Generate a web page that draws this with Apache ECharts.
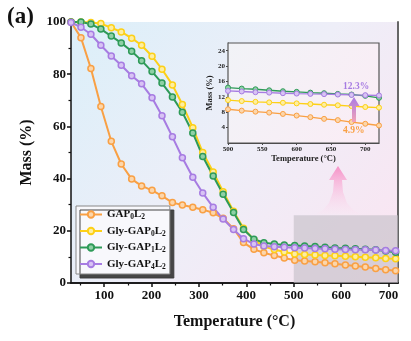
<!DOCTYPE html>
<html><head><meta charset="utf-8">
<script src="https://cdn.jsdelivr.net/npm/echarts@6/dist/echarts.min.js"></script>
<style>html,body{margin:0;padding:0;background:#fff}#c{width:411px;height:341px}</style>
</head><body><div id="c"></div>
<script>
// ---- data ----
const temps = [30, 51, 72, 93, 115, 136, 158, 179, 201, 222, 244, 265, 287, 308, 330, 351, 373, 394, 416, 437, 459, 480, 502, 523, 545, 566, 587, 609, 630, 651, 673, 694, 715];
const gap0 = [100, 94, 82.2, 67.6, 54.3, 45.6, 39.8, 37.2, 35.5, 33.4, 30.8, 29.9, 29, 28.1, 26.9, 24.8, 20.8, 15.5, 12.9, 11.6, 10.5, 9.6, 8.75, 8.4, 8.1, 7.8, 7.4, 6.9, 6.5, 6.1, 5.6, 5.1, 4.7];
const glyGap0 = [100, 100, 99.8, 99.4, 97.8, 96.2, 93.8, 91.1, 86.9, 81.9, 75.9, 68.4, 59.5, 50, 42.5, 35, 27.5, 21, 16.5, 14, 12.8, 11.9, 11.15, 10.9, 10.7, 10.5, 10.4, 10.25, 10.1, 9.9, 9.7, 9.4, 9.25];
const glyGap1 = [100, 100, 99.2, 97.3, 94.6, 92, 88.8, 85.2, 81, 76.6, 71.3, 65.4, 57.5, 48.5, 41, 34, 27, 20.5, 16.8, 15.4, 14.9, 14.6, 14.4, 14.15, 13.95, 13.7, 13.45, 13.3, 13.1, 12.95, 12.75, 12.3, 11.8];
const glyGap4 = [99.8, 98, 95.3, 91.1, 87, 83.4, 79.4, 76.3, 71, 64.1, 56, 48, 40.5, 34.5, 29, 24.5, 20.5, 17, 14.9, 14.2, 13.9, 13.7, 13.5, 13.4, 13.2, 13.1, 12.95, 12.85, 12.75, 12.7, 12.6, 12.45, 12.35];

const insetTemps = [500, 520, 540, 560, 580, 600, 620, 640, 660, 680, 700, 720];
const inGap0 = [8.77, 8.41, 8.15, 7.9, 7.56, 7.13, 6.72, 6.28, 5.95, 5.44, 5.0, 4.56];
const inGlyGap0 = [11.15, 10.9, 10.7, 10.56, 10.46, 10.3, 10.13, 9.95, 9.8, 9.6, 9.36, 9.2];
const inGlyGap1 = [14.4, 14.15, 13.97, 13.7, 13.46, 13.3, 13.1, 12.95, 12.77, 12.6, 12.26, 11.74];
const inGlyGap4 = [13.54, 13.4, 13.2, 13.1, 12.95, 12.85, 12.77, 12.7, 12.6, 12.5, 12.44, 12.36];

const names = ['GAP0L2', 'Gly-GAP0L2', 'Gly-GAP1L2', 'Gly-GAP4L2'];
const mainX = [100, 200, 300, 400, 500, 600, 700];
const mainXMinor = [50, 150, 250, 350, 450, 550, 650];
const insetX = [500, 550, 600, 650, 700];
const insetY = [4, 8, 12, 16, 20, 24];
const highlight = ['12.3%', '4.9%'];

// ---- style ----
const colors = ['#f9a044', '#fdd017', '#2e9a58', '#a77ce2'];
const fills = ['#fcd6ab', '#feeea0', '#8fd0a6', '#d8c3f4'];
const FONT = '"Liberation Serif","Times New Roman",serif';

const mainSets = [gap0, glyGap0, glyGap1, glyGap4];
const insetSets = [inGap0, inGlyGap0, inGlyGap1, inGlyGap4];

const chart = echarts.init(document.getElementById('c'));
const series = [];
mainSets.forEach((d, i) => {
  series.push({
    name: names[i], type: 'line', xAxisIndex: 0, yAxisIndex: 0,
    data: temps.map((t, k) => [t, d[k]]),
    symbol: 'circle', symbolSize: 6, z: 3,
    lineStyle: { color: colors[i], width: 2 },
    itemStyle: { color: fills[i], borderColor: colors[i], borderWidth: 1.5 }
  });
});
// gray box overlay
series.push({
  type: 'line', xAxisIndex: 0, yAxisIndex: 0, data: [], z: 6, silent: true,
  markArea: { silent: true, itemStyle: { color: 'rgba(196,190,198,0.62)' },
    data: [[{ coord: [500, 0] }, { coord: [720, 26] }]] }
});
insetSets.forEach((d, i) => {
  series.push({
    name: names[i] + '_in', type: 'line', xAxisIndex: 3, yAxisIndex: 3,
    data: insetTemps.map((t, k) => [t, d[k]]),
    symbol: 'circle', symbolSize: 5, z: 8,
    lineStyle: { color: colors[i], width: 1.4 },
    itemStyle: { color: fills[i], borderColor: colors[i], borderWidth: 1 }
  });
});

const sub = name => name.replace(/(\d)/g, '{s|$1}');

const option = {
  animation: false,
  textStyle: { fontFamily: FONT },
  grid: [
    { left: 71, right: 13, top: 22, bottom: 58, show: true, borderWidth: 0,
      backgroundColor: new echarts.graphic.LinearGradient(0, 0, 1, 1, [
        { offset: 0, color: '#dbeff9' }, { offset: 0.5, color: '#eeeef8' }, { offset: 1, color: '#fbe4f1' }]) },
    { left: 228, right: 32, top: 43, bottom: 198, show: true, borderColor: '#555', borderWidth: 1.2, z: 7,
      backgroundColor: new echarts.graphic.LinearGradient(0, 0, 1, 1, [
        { offset: 0, color: '#f1f3f7' }, { offset: 1, color: '#fbecf5' }]) }
  ],
  legend: {
    data: names, orient: 'vertical', left: 76, top: 206, itemWidth: 22, itemHeight: 8, itemGap: 4,
    padding: [3, 4, 3, 3], backgroundColor: '#f8f8fc', borderColor: '#888', borderWidth: 1,
    shadowColor: 'rgba(60,60,60,0.95)', shadowOffsetX: 4, shadowOffsetY: 4, shadowBlur: 0,
    formatter: sub,
    textStyle: { fontFamily: FONT, fontWeight: 'bold', fontSize: 11, color: '#111',
      rich: { s: { fontFamily: FONT, fontWeight: 'bold', fontSize: 7.5, padding: [6, 0, 0, 0], color: '#111' } } }
  },
  xAxis: [
    { type: 'value', gridIndex: 0, min: 30, max: 720, position: 'bottom',
      name: 'Temperature (°C)', nameLocation: 'middle', nameGap: 31,
      nameTextStyle: { fontFamily: FONT, fontWeight: 'bold', fontSize: 16, color: '#111' },
      axisLine: { show: true, lineStyle: { color: '#111', width: 1.5 } },
      axisTick: { show: true, inside: false, length: 4, customValues: mainX, lineStyle: { color: '#111', width: 1.5 } },
      axisLabel: { customValues: mainX, margin: 6, fontFamily: FONT, fontWeight: 'bold', fontSize: 13, color: '#111' },
      splitLine: { show: false } },
    { type: 'value', gridIndex: 0, min: 30, max: 720, position: 'bottom',
      axisLine: { show: false }, axisLabel: { show: false }, splitLine: { show: false },
      axisTick: { show: true, length: 2.5, customValues: mainXMinor, lineStyle: { color: '#111', width: 1.2 } } },
    { type: 'value', gridIndex: 0, min: 30, max: 720, position: 'top',
      axisLine: { show: true, lineStyle: { color: '#111', width: 1.5 } },
      axisTick: { show: false }, axisLabel: { show: false }, splitLine: { show: false } },
    { type: 'value', gridIndex: 1, min: 500, max: 720, position: 'bottom',
      name: 'Temperature (°C)', nameLocation: 'middle', nameGap: 11,
      nameTextStyle: { fontFamily: FONT, fontWeight: 'bold', fontSize: 8.5, color: '#222' },
      axisLine: { show: true, lineStyle: { color: '#444', width: 1 } },
      axisTick: { show: true, length: 2, customValues: insetX, lineStyle: { color: '#444' } },
      axisLabel: { customValues: insetX, margin: 3, fontFamily: FONT, fontWeight: 'bold', fontSize: 7, color: '#222' },
      splitLine: { show: false } }
  ],
  yAxis: [
    { type: 'value', gridIndex: 0, min: 0, max: 100, interval: 20, position: 'left',
      name: 'Mass (%)', nameLocation: 'middle', nameGap: 36,
      nameTextStyle: { fontFamily: FONT, fontWeight: 'bold', fontSize: 16, color: '#111' },
      axisLine: { show: true, lineStyle: { color: '#111', width: 1.5 } },
      axisTick: { show: true, length: 4, lineStyle: { color: '#111', width: 1.5 } },
      minorTick: { show: true, splitNumber: 2, length: 2.5, lineStyle: { color: '#111', width: 1.2 } },
      axisLabel: { margin: 5, fontFamily: FONT, fontWeight: 'bold', fontSize: 13, color: '#111' },
      splitLine: { show: false } },
    { type: 'value', gridIndex: 0, min: 0, max: 100, position: 'right',
      axisLine: { show: true, lineStyle: { color: '#666', width: 2 } },
      axisTick: { show: false }, axisLabel: { show: false }, splitLine: { show: false } },
    { type: 'value', gridIndex: 0, min: 0, max: 100, position: 'left', show: false },
    { type: 'value', gridIndex: 1, min: 0, max: 26, position: 'left',
      name: 'Mass (%)', nameLocation: 'middle', nameGap: 14,
      nameTextStyle: { fontFamily: FONT, fontWeight: 'bold', fontSize: 8.5, color: '#222' },
      axisLine: { show: true, lineStyle: { color: '#444', width: 1 } },
      axisTick: { show: true, length: 2, customValues: insetY, lineStyle: { color: '#444' } },
      axisLabel: { customValues: insetY, margin: 3, fontFamily: FONT, fontWeight: 'bold', fontSize: 7, color: '#222' },
      splitLine: { show: false } }
  ],
  graphic: [
    { type: 'text', left: 7, top: 6, style: { text: '(a)', font: 'bold 23px ' + FONT, fill: '#111' } },
    { type: 'polygon', z: 4, shape: { points: [[338, 166], [329, 180], [334, 180], [333, 192], [329, 203], [323, 210], [316, 214], [360, 214], [353, 210], [347, 203], [343, 192], [342, 180], [347, 180]] },
      style: { fill: new echarts.graphic.LinearGradient(0, 0, 0, 1, [
        { offset: 0, color: 'rgba(246,140,196,0.95)' }, { offset: 0.5, color: 'rgba(249,185,220,0.6)' }, { offset: 1, color: 'rgba(252,225,240,0.15)' }]) } },
    { type: 'polygon', z: 20, shape: { points: [[354, 97], [348.5, 106], [352, 106], [352, 122], [356, 122], [356, 106], [359.5, 106]] },
      style: { fill: new echarts.graphic.LinearGradient(0, 0, 0, 1, [
        { offset: 0, color: '#a97be4' }, { offset: 1, color: '#f3a3b6' }]) } },
    { type: 'text', z: 20, left: 343, top: 82, style: { text: highlight[0], font: 'bold 9.5px ' + FONT, fill: '#a77ce2' } },
    { type: 'text', z: 20, left: 343, top: 126, style: { text: highlight[1], font: 'bold 9.5px ' + FONT, fill: '#f9a044' } }
  ],
  series: series
};
chart.setOption(option);
</script></body></html>
